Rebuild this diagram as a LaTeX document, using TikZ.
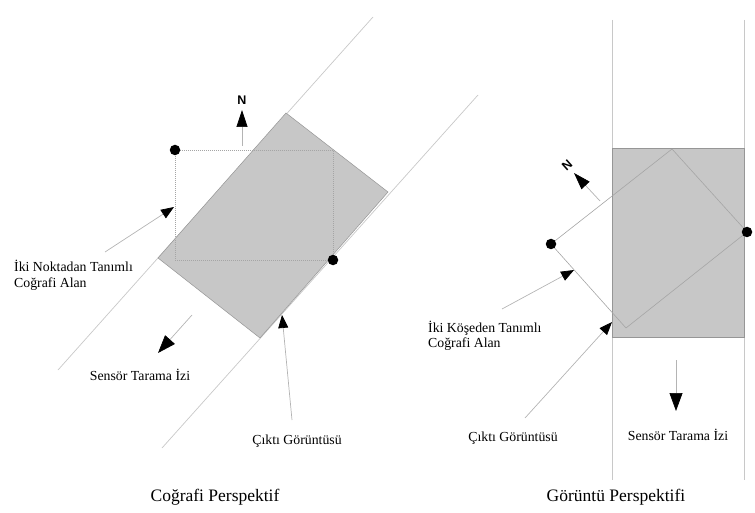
\documentclass[tikz,border=0pt]{standalone}
\usepackage{fontspec}
\setmainfont{Liberation Serif}
\setsansfont{Liberation Sans}
\usetikzlibrary{arrows.meta}
\definecolor{swath}{RGB}{200,200,200}
\definecolor{imgfill}{RGB}{199,199,199}
\definecolor{imgedge}{RGB}{150,150,150}
\definecolor{leader}{RGB}{180,180,180}
\definecolor{geoline}{RGB}{165,165,165}
\begin{document}
\begin{tikzpicture}[x=1pt,y=-1pt,
  swathline/.style={draw=swath,line width=0.7pt},
  imagebox/.style={fill=imgfill,draw=imgedge,line width=0.5pt},
  geobox/.style={draw=geoline,line width=0.6pt},
  geodotted/.style={draw=geoline,line width=0.7pt,dash pattern=on 1pt off 1pt},
  dot/.style={circle,fill=black,minimum size=10.5pt,inner sep=0pt},
  leaderarrow/.style={draw=leader,line width=0.7pt,-{Triangle[length=13pt,width=10pt,color=black]}},
  bigarrow/.style={draw=leader,line width=0.7pt,-{Triangle[length=18pt,width=13pt,color=black]}},
  northarrow/.style={draw=leader,line width=0.7pt,-{Triangle[length=17pt,width=11pt,color=black]}},
  lbl/.style={font=\fontsize{13.8}{15.5}\selectfont,inner sep=0pt,align=left},
  ttl/.style={font=\fontsize{17.5}{20}\selectfont,inner sep=0pt},
  nlbl/.style={font=\sffamily\bfseries\fontsize{12.5}{14}\selectfont,inner sep=0pt}]
\useasboundingbox (0,0) rectangle (755,513);

% ---------------- Left panel: geographic perspective ----------------
\coordinate (LA1) at (373,17);
\coordinate (LA2) at (58,370);
\coordinate (LB1) at (478,95);
\coordinate (LB2) at (162,448);
\draw[swathline] (LA1) -- (LA2);
\draw[swathline] (LB1) -- (LB2);

\coordinate (PT) at (286,113);
\coordinate (PR) at (388,192);
\coordinate (PB) at (260,338);
\coordinate (PL) at (158,258);
\path[imagebox] (PT) -- (PR) -- (PB) -- (PL) -- cycle;

\draw[geodotted] (175,150) rectangle (333,260);
\node[dot] (G1) at (175,150) {};
\node[dot] (G2) at (333,260) {};

\node[nlbl] (N1) at (242,100) {N};
\coordinate (N1s) at (242,146);
\coordinate (N1t) at (242,110);
\draw[northarrow] (N1s) -- (N1t);

\node[lbl,anchor=west] (LGeo) at (14,275.5) {İki Noktadan Tanımlı\\Coğrafi Alan};
\coordinate (LGeoS) at (105,252);
\coordinate (LGeoT) at (174,207);
\draw[leaderarrow] (LGeoS) -- (LGeoT);

\node[lbl] (LSen) at (140,375) {Sensör Tarama İzi};
\coordinate (LSenS) at (192,315);
\coordinate (LSenT) at (158,353);
\draw[bigarrow] (LSenS) -- (LSenT);

\node[lbl] (LOut) at (297,441) {Çıktı Görüntüsü};
\coordinate (LOutS) at (292,420);
\coordinate (LOutT) at (282,315);
\draw[leaderarrow] (LOutS) -- (LOutT);

\node[ttl] (LTitle) at (215,497) {Coğrafi Perspektif};

% ---------------- Right panel: image perspective ----------------
\coordinate (RA1) at (612,20);
\coordinate (RA2) at (612,480);
\coordinate (RB1) at (744,20);
\coordinate (RB2) at (744,480);
\draw[swathline] (RA1) -- (RA2);
\draw[swathline] (RB1) -- (RB2);

\path[imagebox] (612,148) rectangle (744,337);

\coordinate (QL) at (551,244);
\coordinate (QT) at (672,149);
\coordinate (QR) at (747,232);
\coordinate (QB) at (626,328);
\draw[geobox] (QL) -- (QT) -- (QR) -- (QB) -- cycle;
\node[dot] (H1) at (QL) {};
\node[dot] (H2) at (QR) {};

\node[nlbl,rotate=42] (N2) at (567,165) {N};
\coordinate (N2s) at (600,201);
\coordinate (N2t) at (574,173);
\draw[northarrow] (N2s) -- (N2t);

\node[lbl,anchor=west] (RGeo) at (428,336) {İki Köşeden Tanımlı\\Coğrafi Alan};
\coordinate (RGeoS) at (502,309);
\coordinate (RGeoT) at (574,270);
\draw[leaderarrow] (RGeoS) -- (RGeoT);

\node[lbl] (ROut) at (513,438) {Çıktı Görüntüsü};
\coordinate (ROutS) at (525,418);
\coordinate (ROutT) at (612,322);
\draw[leaderarrow] (ROutS) -- (ROutT);

\node[lbl] (RSen) at (678,435) {Sensör Tarama İzi};
\coordinate (RSenS) at (676,360);
\coordinate (RSenT) at (676,411);
\draw[bigarrow] (RSenS) -- (RSenT);

\node[ttl] (RTitle) at (616,497) {Görüntü Perspektifi};
\end{tikzpicture}
\end{document}
